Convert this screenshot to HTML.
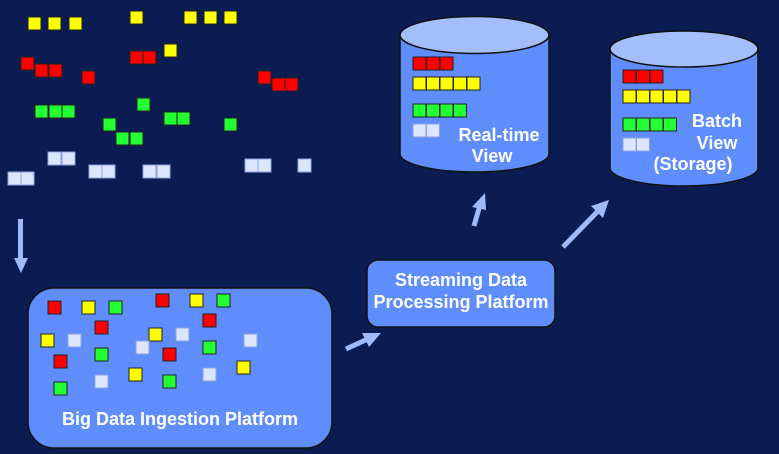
<!DOCTYPE html>
<html><head><style>html,body{margin:0;padding:0;background:#0a1c52;}svg{display:block}text{font-family:"Liberation Sans",sans-serif;font-weight:bold;fill:#fff}</style></head>
<body>
<svg width="779" height="454" viewBox="0 0 779 454" xmlns="http://www.w3.org/2000/svg">
<rect width="779" height="454" fill="#0a1c52"/>
<defs>
<rect id="y" width="13" height="13" fill="#ffff00" stroke="#222" stroke-width="1"/>
<rect id="r" width="13" height="13" fill="#ff0000" stroke="#222" stroke-width="1"/>
<rect id="g" width="13" height="13" fill="#22ff33" stroke="#222" stroke-width="1"/>
<rect id="l" width="13" height="13" fill="#dde6ff" stroke="#8aa4e0" stroke-width="1"/>
</defs>
<g>
<use href="#y" x="28" y="17"/><use href="#y" x="48" y="17"/><use href="#y" x="69" y="17"/><use href="#y" x="130" y="11"/><use href="#y" x="184" y="11"/><use href="#y" x="204" y="11"/><use href="#y" x="224" y="11"/><use href="#y" x="164" y="44"/>
<use href="#r" x="21" y="57"/><use href="#r" x="35" y="64"/><use href="#r" x="49" y="64"/><use href="#r" x="82" y="71"/><use href="#r" x="130" y="51"/><use href="#r" x="143" y="51"/><use href="#r" x="258" y="71"/><use href="#r" x="272" y="78"/><use href="#r" x="285" y="78"/>
<use href="#g" x="35" y="105"/><use href="#g" x="49" y="105"/><use href="#g" x="62" y="105"/><use href="#g" x="137" y="98"/><use href="#g" x="103" y="118"/><use href="#g" x="116" y="132"/><use href="#g" x="130" y="132"/><use href="#g" x="164" y="112"/><use href="#g" x="177" y="112"/><use href="#g" x="224" y="118"/>
<use href="#l" x="48" y="152"/><use href="#l" x="62" y="152"/><use href="#l" x="8" y="172"/><use href="#l" x="21" y="172"/><use href="#l" x="89" y="165"/><use href="#l" x="102" y="165"/><use href="#l" x="143" y="165"/><use href="#l" x="157" y="165"/><use href="#l" x="245" y="159"/><use href="#l" x="258" y="159"/><use href="#l" x="298" y="159"/>
</g>
<g fill="#a0baf8" stroke="none">
<rect x="18" y="219" width="5" height="40"/>
<polygon points="14,258 28,258 21,273"/>
</g>
<g stroke="#a0baf8" stroke-width="5" fill="none">
<line x1="346" y1="349" x2="370" y2="338"/>
<line x1="474" y1="226" x2="480" y2="205"/>
<line x1="563" y1="247" x2="600" y2="209"/>
</g>
<g fill="#a0baf8">
<polygon points="381,333 362,333 369,347"/>
<polygon points="485,193 472,207 486,210"/>
<polygon points="609,200 591,206 603,218"/>
</g>
<rect x="28" y="288" width="304" height="160" rx="26" fill="#5f8dfb" stroke="#111" stroke-width="1.5"/>
<g>
<use href="#r" x="48" y="301"/><use href="#y" x="82" y="301"/><use href="#g" x="109" y="301"/><use href="#r" x="156" y="294"/><use href="#y" x="190" y="294"/><use href="#g" x="217" y="294"/><use href="#r" x="203" y="314"/><use href="#r" x="95" y="321"/><use href="#y" x="41" y="334"/><use href="#l" x="68" y="334"/><use href="#y" x="149" y="328"/><use href="#l" x="176" y="328"/><use href="#l" x="136" y="341"/><use href="#r" x="163" y="348"/><use href="#g" x="203" y="341"/><use href="#l" x="244" y="334"/><use href="#r" x="54" y="355"/><use href="#g" x="95" y="348"/><use href="#g" x="54" y="382"/><use href="#l" x="95" y="375"/><use href="#y" x="129" y="368"/><use href="#g" x="163" y="375"/><use href="#l" x="203" y="368"/><use href="#y" x="237" y="361"/>
</g>
<text x="180" y="425" font-size="18" text-anchor="middle">Big Data Ingestion Platform</text>
<rect x="367" y="260" width="188" height="67" rx="11" fill="#5f8dfb" stroke="#111" stroke-width="1.5"/>
<text x="461" y="286" font-size="18" text-anchor="middle">Streaming Data</text>
<text x="461" y="308" font-size="18" text-anchor="middle">Processing Platform</text>
<path d="M400,35 L400,154 A74.5,18 0 0 0 549,154 L549,35 Z" fill="#5f8dfb" stroke="#111" stroke-width="1.5"/>
<ellipse cx="474.5" cy="35" rx="74.5" ry="18.5" fill="#a4bdfc" stroke="#111" stroke-width="1.5"/>
<g>
<use href="#r" x="413" y="57"/><use href="#r" x="426.5" y="57"/><use href="#r" x="440" y="57"/>
<use href="#y" x="413" y="77"/><use href="#y" x="426.5" y="77"/><use href="#y" x="440" y="77"/><use href="#y" x="453.5" y="77"/><use href="#y" x="467" y="77"/>
<use href="#g" x="413" y="104"/><use href="#g" x="426.5" y="104"/><use href="#g" x="440" y="104"/><use href="#g" x="453.5" y="104"/>
<use href="#l" x="413" y="124"/><use href="#l" x="426.5" y="124"/>
</g>
<text x="499" y="141" font-size="18" text-anchor="middle">Real-time</text>
<text x="492" y="162" font-size="18" text-anchor="middle">View</text>
<path d="M610,49 L610,168 A74,18 0 0 0 758,168 L758,49 Z" fill="#5f8dfb" stroke="#111" stroke-width="1.5"/>
<ellipse cx="684" cy="49" rx="74" ry="18" fill="#a4bdfc" stroke="#111" stroke-width="1.5"/>
<g>
<use href="#r" x="623" y="70"/><use href="#r" x="636.5" y="70"/><use href="#r" x="650" y="70"/>
<use href="#y" x="623" y="90"/><use href="#y" x="636.5" y="90"/><use href="#y" x="650" y="90"/><use href="#y" x="663.5" y="90"/><use href="#y" x="677" y="90"/>
<use href="#g" x="623" y="118"/><use href="#g" x="636.5" y="118"/><use href="#g" x="650" y="118"/><use href="#g" x="663.5" y="118"/>
<use href="#l" x="623" y="138"/><use href="#l" x="636.5" y="138"/>
</g>
<text x="717" y="127" font-size="18" text-anchor="middle">Batch</text>
<text x="717" y="149" font-size="18" text-anchor="middle">View</text>
<text x="693" y="170" font-size="18" text-anchor="middle">(Storage)</text>
</svg>
</body></html>
